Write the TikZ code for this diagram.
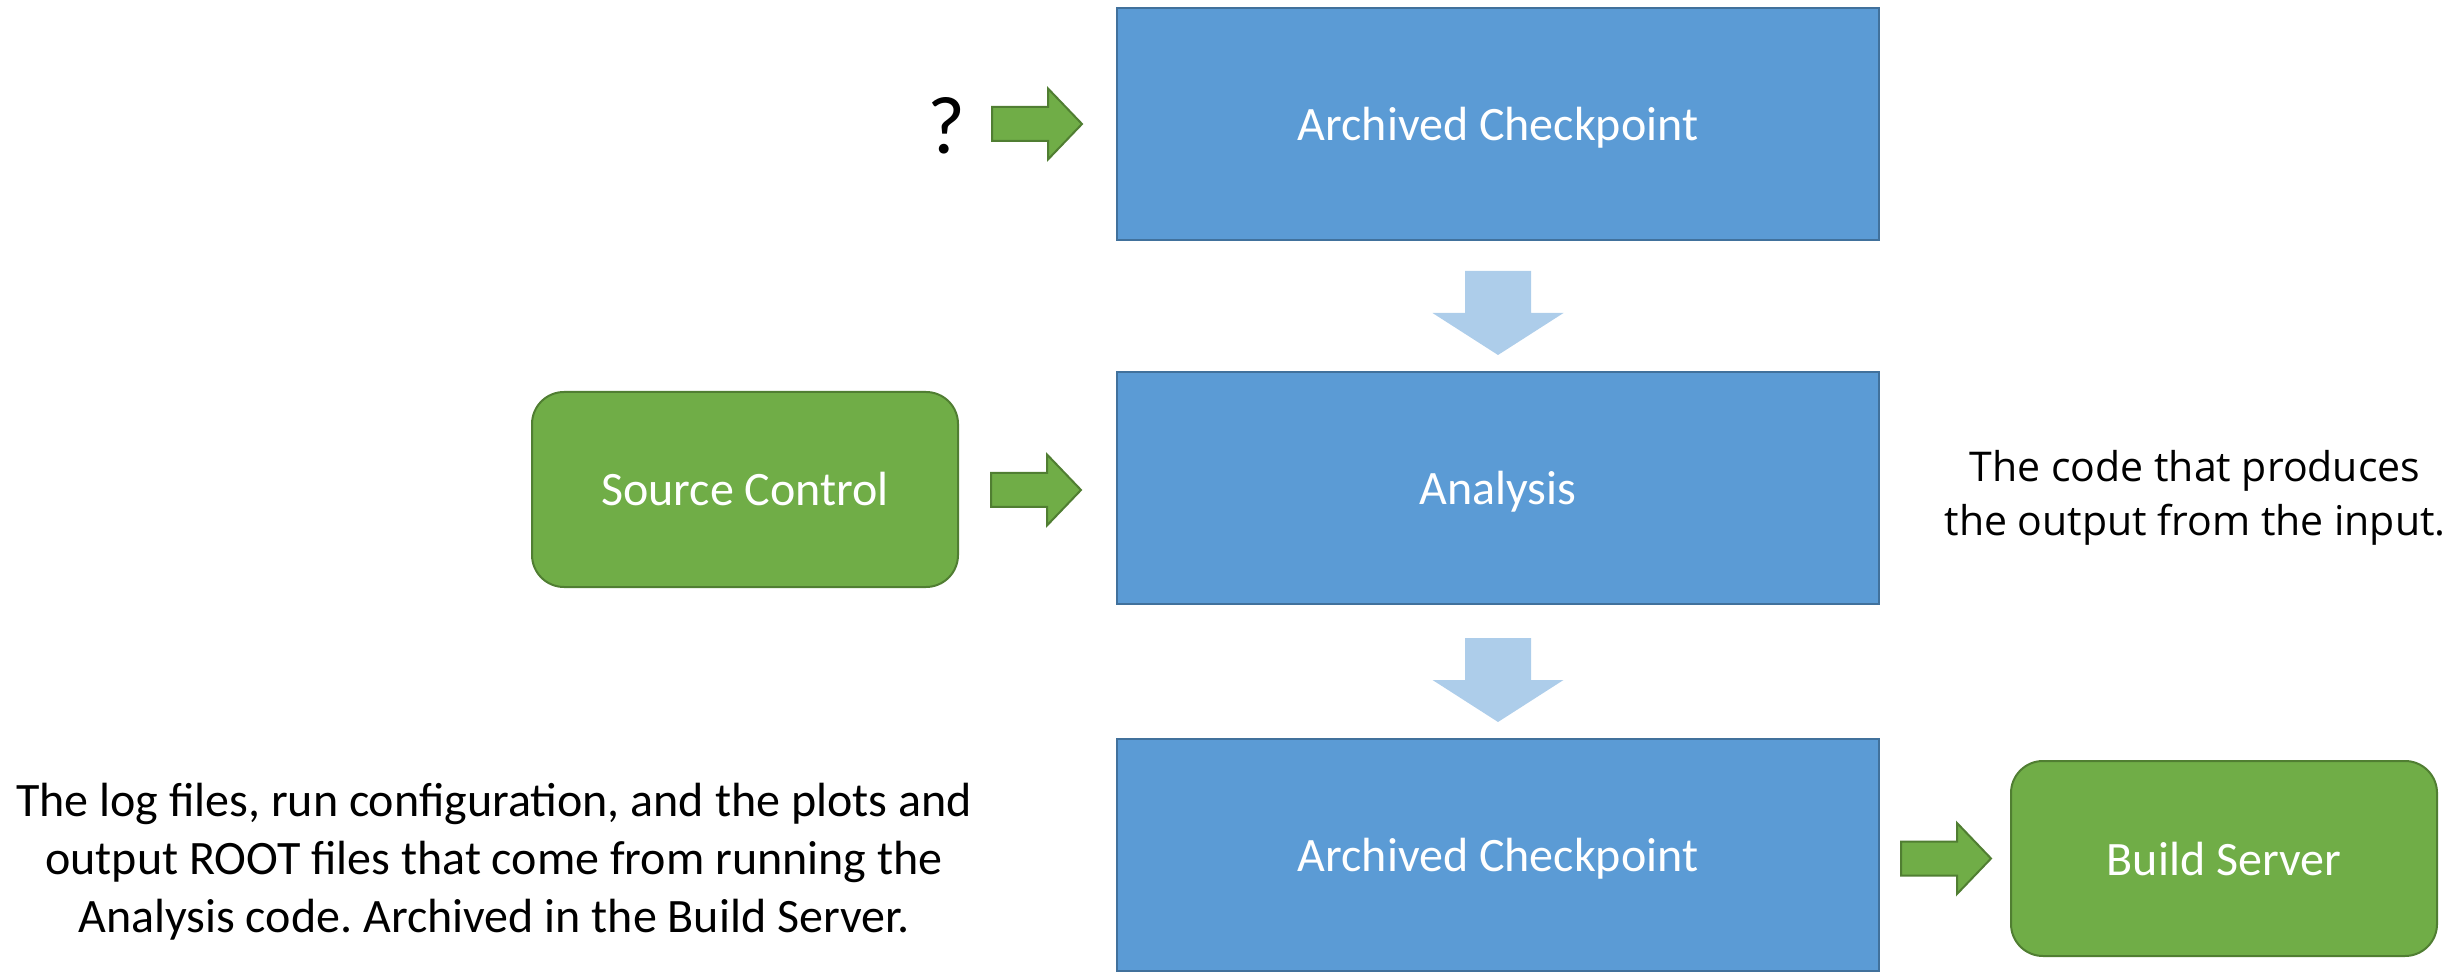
\documentclass[tikz,border=0pt]{standalone}
\usepackage{fontspec}
\setmainfont{Carlito}
\newfontfamily\notefont{Open Sans}
\usetikzlibrary{calc}
\definecolor{boxblue}{RGB}{91,155,213}
\definecolor{boxline}{RGB}{65,113,156}
\definecolor{flowblue}{RGB}{173,205,234}
\definecolor{greenfill}{RGB}{112,173,71}
\definecolor{greenline}{RGB}{80,126,50}
\frenchspacing
\begin{document}
\begin{tikzpicture}[x=0.5pt,y=-0.5pt,
  stage/.style={draw=boxline, line width=1pt, fill=boxblue, inner sep=0pt,
    minimum width=381pt, minimum height=116pt, text=white,
    text height=16.5pt, text depth=0pt,
    font=\fontsize{24}{29}\selectfont},
  store/.style={draw=greenline, line width=1pt, fill=greenfill, inner sep=0pt,
    rounded corners=16pt, minimum width=213pt, minimum height=97.5pt,
    text height=16.5pt, text depth=0pt,
    text=white, font=\fontsize{24}{29}\selectfont},
  pics/feed/.style={code={
    \filldraw[fill=greenfill, draw=greenline, line width=1pt, line join=miter]
      (0,-17) -- (56,-17) -- (56,-35.5) -- (90,0) -- (56,35.5) -- (56,17)
      -- (0,17) -- cycle;}},
  pics/flow/.style={code={
    \fill[flowblue] (-33,0) -- (33,0) -- (33,42) -- (65.5,42) -- (0,84)
      -- (-65.5,42) -- (-33,42) -- cycle;}}
]
\useasboundingbox (0,0) rectangle (2461,972);

% pipeline stages
\node[stage] (cp1) at (1498,124) {Archived Checkpoint};
\node[stage] (ana) at (1498,488) {Analysis};
\node[stage] (cp2) at (1498,854.5) {Archived Checkpoint};

% external systems
\node[store] (src)   at (745,489.5)  {Source Control};
\node[store] (build) at (2224,858.5) {Build Server};

% flow between stages
\pic at ($(cp1.south)+(0,30)$) {flow};
\pic at ($(ana.south)+(0,33)$) {flow};

% inputs and outputs
\node[font=\fontsize{41}{49}\selectfont] (q) at (946,126) {?};
\pic at ($(cp1.west)+(-124,0)$) {feed};
\pic at ($(ana.west)+(-125,2)$) {feed};
\pic at ($(build.west)+(-109,0)$) {feed};

% annotations
\node[align=center, font=\fontsize{24}{29}\selectfont] (logs) at (494,862)
  {The log files, run configuration, and the plots and\\
   output ROOT files that come from running the\\
   Analysis code. Archived in the Build Server.};
\node[align=center, font=\notefont\fontsize{20.5}{27}\selectfont] (code) at (2195,498)
  {The code that produces\\ the output from the input.};
\end{tikzpicture}
\end{document}
